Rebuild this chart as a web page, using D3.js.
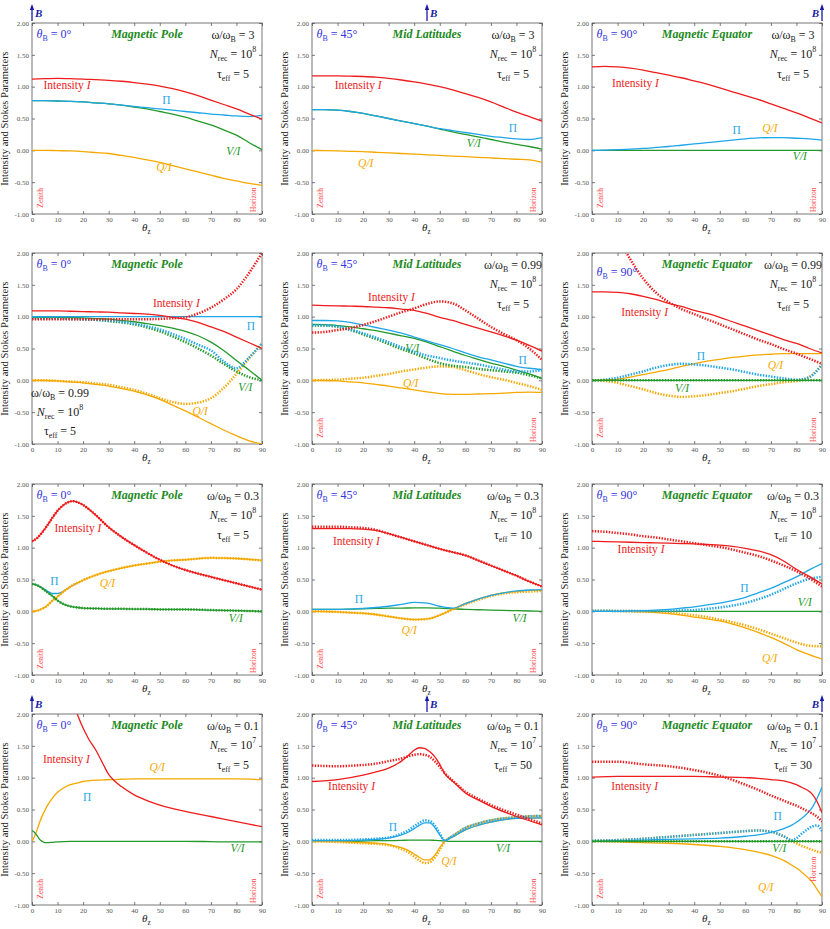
<!DOCTYPE html>
<html>
<head>
<meta charset="utf-8">
<script src="https://cdn.jsdelivr.net/npm/d3@7"></script>
<style>
	body { margin: 0; background: #fff; }
</style>
</head>
<body>
<svg id="chart" width="830" height="929"></svg>
<script>
// zenith angle grids (degrees) - each panel's series are sampled on one of these
const gridA = [0, 5, 10, 15, 20, 25, 30, 35, 40, 45, 50, 55, 60, 65, 70, 75, 80, 85, 90];
const grid7 = [0, 2, 4, 6, 8, 10, 12, 14, 16, 18, 20, 25, 30, 35, 40, 45, 50, 55, 60, 70, 80, 90];
const grid10 = [0, 1, 2, 3, 4, 5, 6, 8, 10, 12, 15, 18, 20, 22, 25, 28, 30, 32, 35, 40, 45, 50, 60, 70, 80, 90];
const grid11 = [0, 10, 20, 25, 30, 35, 38, 40, 42, 44, 46, 48, 50, 52, 54, 56, 60, 65, 70, 80, 90];
const grid12 = [0, 10, 20, 30, 40, 50, 60, 65, 70, 75, 78, 80, 82, 84, 86, 88, 90];

const zerosA = [0, 0, 0, 0, 0, 0, 0, 0, 0, 0, 0, 0, 0, 0, 0, 0, 0, 0, 0];
const zeros12 = [0, 0, 0, 0, 0, 0, 0, 0, 0, 0, 0, 0, 0, 0, 0, 0, 0];

// row 1: omega/omegaB = 3
const p1I = [1.12, 1.125, 1.13, 1.125, 1.12, 1.11, 1.10, 1.085, 1.065, 1.04, 1.01, 0.97, 0.92, 0.86, 0.79, 0.72, 0.65, 0.57, 0.49];
const p1Pi = [0.78, 0.78, 0.775, 0.77, 0.76, 0.745, 0.73, 0.71, 0.69, 0.67, 0.65, 0.63, 0.61, 0.59, 0.57, 0.555, 0.54, 0.53, 0.55];
const p1V = [0.78, 0.78, 0.775, 0.77, 0.76, 0.745, 0.73, 0.71, 0.68, 0.65, 0.61, 0.57, 0.52, 0.46, 0.40, 0.32, 0.24, 0.12, 0.01];
const p1Q = [0, 0, -0.005, -0.01, -0.02, -0.035, -0.05, -0.08, -0.11, -0.15, -0.19, -0.24, -0.29, -0.34, -0.39, -0.44, -0.48, -0.52, -0.55];

const p2I = [1.17, 1.17, 1.17, 1.165, 1.16, 1.15, 1.13, 1.105, 1.075, 1.04, 1.0, 0.95, 0.89, 0.83, 0.76, 0.68, 0.60, 0.53, 0.46];
const p2Pi = [0.64, 0.64, 0.63, 0.61, 0.58, 0.54, 0.50, 0.46, 0.42, 0.38, 0.34, 0.31, 0.28, 0.25, 0.22, 0.20, 0.18, 0.17, 0.20];
const p2V = [0.64, 0.64, 0.63, 0.61, 0.58, 0.54, 0.50, 0.46, 0.42, 0.38, 0.335, 0.29, 0.25, 0.21, 0.17, 0.13, 0.095, 0.06, 0.02];
const p2Q = [0, -0.005, -0.01, -0.015, -0.02, -0.03, -0.04, -0.05, -0.06, -0.07, -0.08, -0.09, -0.10, -0.11, -0.12, -0.13, -0.14, -0.15, -0.19];

// Q/I coincides with Pi here and sits underneath it
const p3I = [1.31, 1.32, 1.31, 1.29, 1.26, 1.22, 1.18, 1.14, 1.09, 1.04, 0.98, 0.92, 0.86, 0.80, 0.73, 0.66, 0.59, 0.51, 0.43];
const p3Pi = [0, 0.003, 0.01, 0.02, 0.03, 0.045, 0.06, 0.08, 0.10, 0.12, 0.14, 0.16, 0.18, 0.195, 0.20, 0.20, 0.19, 0.18, 0.16];

// row 2: omega/omegaB = 0.99 ("d" = dotted companion curve)
const p4I = [1.09, 1.09, 1.09, 1.085, 1.08, 1.075, 1.07, 1.06, 1.05, 1.04, 1.02, 0.99, 0.96, 0.91, 0.84, 0.77, 0.68, 0.59, 0.50];
const p4Id = [0.96, 0.96, 0.96, 0.96, 0.96, 0.96, 0.96, 0.96, 0.96, 0.96, 0.965, 0.975, 0.99, 1.05, 1.14, 1.27, 1.43, 1.69, 2.0];
const p4Pi = [1, 1, 1, 1, 1, 1, 1, 1, 1, 1, 1, 1, 1, 1, 1, 1, 1, 1, 1];
const p4Pid = [0.97, 0.97, 0.97, 0.965, 0.96, 0.95, 0.94, 0.92, 0.89, 0.85, 0.80, 0.73, 0.65, 0.56, 0.47, 0.30, 0.19, 0.36, 0.58];
const p4V = [0.99, 0.99, 0.99, 0.985, 0.98, 0.97, 0.96, 0.94, 0.92, 0.89, 0.86, 0.82, 0.77, 0.70, 0.60, 0.47, 0.31, 0.16, 0.0];
const p4Vd = [0.97, 0.97, 0.97, 0.965, 0.96, 0.95, 0.93, 0.91, 0.88, 0.83, 0.77, 0.69, 0.60, 0.50, 0.39, 0.26, 0.14, 0.05, 0.0];
const p4Q = [0, -0.003, -0.01, -0.025, -0.04, -0.065, -0.09, -0.13, -0.17, -0.23, -0.30, -0.39, -0.48, -0.58, -0.68, -0.78, -0.87, -0.95, -1.0];
const p4Qd = [0, 0, -0.01, -0.02, -0.03, -0.05, -0.07, -0.11, -0.15, -0.21, -0.28, -0.34, -0.37, -0.35, -0.28, -0.12, 0.1, 0.35, 0.58];

const p5I = [1.18, 1.175, 1.17, 1.165, 1.16, 1.15, 1.14, 1.12, 1.10, 1.05, 0.99, 0.94, 0.88, 0.82, 0.76, 0.70, 0.63, 0.55, 0.46];
const p5Id = [0.75, 0.76, 0.79, 0.82, 0.87, 0.93, 1.0, 1.07, 1.13, 1.2, 1.24, 1.21, 1.1, 0.97, 0.84, 0.73, 0.63, 0.5, 0.32];
const p5Pi = [0.94, 0.94, 0.935, 0.91, 0.87, 0.83, 0.79, 0.74, 0.68, 0.62, 0.56, 0.50, 0.43, 0.37, 0.32, 0.27, 0.22, 0.19, 0.17];
const p5Pid = [0.87, 0.865, 0.85, 0.80, 0.74, 0.67, 0.60, 0.52, 0.45, 0.39, 0.35, 0.31, 0.28, 0.25, 0.21, 0.17, 0.14, 0.14, 0.16];
const p5V = [0.88, 0.875, 0.86, 0.84, 0.81, 0.78, 0.74, 0.70, 0.66, 0.60, 0.53, 0.46, 0.39, 0.33, 0.27, 0.22, 0.16, 0.10, 0.03];
const p5Vd = [0.86, 0.86, 0.84, 0.79, 0.72, 0.65, 0.57, 0.49, 0.42, 0.34, 0.27, 0.23, 0.21, 0.18, 0.16, 0.14, 0.12, 0.08, 0.03];
const p5Q = [0, -0.003, -0.01, -0.025, -0.04, -0.065, -0.09, -0.12, -0.15, -0.18, -0.21, -0.22, -0.22, -0.215, -0.21, -0.20, -0.19, -0.185, -0.19];
const p5Qd = [0, 0.005, 0.01, 0.025, 0.04, 0.07, 0.10, 0.14, 0.17, 0.20, 0.22, 0.21, 0.16, 0.10, 0.05, 0.01, -0.04, -0.09, -0.15];

// Pi (solid) coincides with Q/I here and sits underneath it
const p6I = [1.39, 1.39, 1.38, 1.36, 1.32, 1.27, 1.21, 1.16, 1.10, 1.05, 0.99, 0.92, 0.85, 0.78, 0.71, 0.64, 0.58, 0.50, 0.43];
const p6Id = [null, null, 2.25, 1.9, 1.6, 1.38, 1.23, 1.12, 1.04, 0.96, 0.88, 0.80, 0.72, 0.64, 0.57, 0.49, 0.42, 0.34, 0.26];
const p6Pid = [0, 0.01, 0.04, 0.09, 0.14, 0.20, 0.24, 0.26, 0.25, 0.23, 0.20, 0.17, 0.13, 0.09, 0.06, 0.03, 0.01, 0.05, 0.25];
const p6Q = [0, 0.005, 0.02, 0.05, 0.09, 0.13, 0.17, 0.22, 0.26, 0.30, 0.33, 0.36, 0.38, 0.40, 0.41, 0.42, 0.42, 0.42, 0.42];
const p6Qd = [0, -0.01, -0.04, -0.09, -0.14, -0.20, -0.24, -0.26, -0.25, -0.23, -0.20, -0.17, -0.13, -0.09, -0.06, -0.03, -0.01, 0.05, 0.25];

// row 3: omega/omegaB = 0.3 (Pi hidden under Q/I beyond 18 deg)
const p7I = [1.10, 1.15, 1.24, 1.35, 1.47, 1.58, 1.66, 1.71, 1.73, 1.71, 1.67, 1.51, 1.32, 1.17, 1.04, 0.92, 0.81, 0.72, 0.65, 0.54, 0.44, 0.34];
const p7Pi = [0.43, 0.41, 0.37, 0.32, 0.28, 0.28, 0.31, 0.36, 0.41, 0.45, null, null, null, null, null, null, null, null, null, null, null, null];
const p7Q = [0, 0.01, 0.04, 0.09, 0.17, 0.23, 0.30, 0.36, 0.41, 0.45, 0.49, 0.57, 0.63, 0.68, 0.72, 0.75, 0.78, 0.80, 0.81, 0.84, 0.83, 0.80];
const p7V = [0.43, 0.41, 0.36, 0.30, 0.24, 0.17, 0.12, 0.09, 0.07, 0.06, 0.05, 0.045, 0.04, 0.04, 0.035, 0.035, 0.03, 0.03, 0.03, 0.02, 0.01, 0];

const p8I = [1.30, 1.30, 1.30, 1.30, 1.29, 1.27, 1.22, 1.16, 1.10, 1.04, 0.98, 0.93, 0.88, 0.80, 0.72, 0.64, 0.56, 0.47, 0.39];
const p8Id = [1.33, 1.33, 1.33, 1.32, 1.31, 1.28, 1.22, 1.16, 1.10, 1.04, 0.98, 0.93, 0.88, 0.80, 0.72, 0.64, 0.56, 0.47, 0.39];
const p8Pi = [0.03, 0.03, 0.03, 0.035, 0.045, 0.06, 0.08, 0.11, 0.14, 0.13, 0.08, 0.05, 0.12, 0.19, 0.25, 0.29, 0.32, 0.335, 0.34];
const p8V = [0.03, 0.03, 0.03, 0.035, 0.04, 0.045, 0.05, 0.05, 0.055, 0.055, 0.05, 0.04, 0.03, 0.025, 0.02, 0.015, 0.01, 0.005, 0];
const p8Q = [0, -0.005, -0.01, -0.02, -0.03, -0.05, -0.08, -0.11, -0.13, -0.12, -0.06, 0.03, 0.12, 0.19, 0.25, 0.29, 0.31, 0.33, 0.33];
const p8Qd = [0, 0, -0.01, -0.02, -0.03, -0.05, -0.08, -0.11, -0.13, -0.12, -0.06, 0.03, 0.11, 0.18, 0.24, 0.28, 0.30, 0.31, 0.32];

const p9I = [1.10, 1.095, 1.09, 1.085, 1.08, 1.075, 1.07, 1.065, 1.06, 1.05, 1.04, 1.02, 0.99, 0.95, 0.89, 0.79, 0.66, 0.55, 0.43];
const p9Id = [1.26, 1.25, 1.23, 1.21, 1.18, 1.16, 1.13, 1.10, 1.07, 1.04, 1.01, 0.97, 0.92, 0.87, 0.80, 0.72, 0.63, 0.52, 0.39];
const p9Pi = [0, 0, 0, 0.005, 0.01, 0.02, 0.03, 0.05, 0.07, 0.10, 0.13, 0.17, 0.22, 0.29, 0.36, 0.45, 0.54, 0.65, 0.75];
const p9Pid = [0.01, 0.01, 0.005, 0.005, 0.005, 0.005, 0.01, 0.015, 0.02, 0.04, 0.06, 0.09, 0.13, 0.19, 0.26, 0.35, 0.44, 0.51, 0.54];
const p9Q = [0, 0, 0, -0.005, -0.01, -0.02, -0.035, -0.06, -0.09, -0.12, -0.15, -0.2, -0.26, -0.33, -0.41, -0.5, -0.60, -0.68, -0.75];
const p9Qd = [0.01, 0.01, 0.005, 0.005, 0, -0.005, -0.02, -0.04, -0.06, -0.09, -0.13, -0.17, -0.22, -0.28, -0.35, -0.42, -0.49, -0.54, -0.55];

// row 4: omega/omegaB = 0.1 (panel 10: Pi hidden under Q/I)
const p10I = [null, null, null, null, null, null, null, null, null, null, 2.35, 1.97, 1.78, 1.62, 1.43, 1.2, 1.05, 0.96, 0.86, 0.73, 0.64, 0.57, 0.47, 0.39, 0.31, 0.23];
const p10Q = [0, 0.08, 0.18, 0.30, 0.40, 0.48, 0.56, 0.68, 0.77, 0.83, 0.89, 0.92, 0.94, 0.95, 0.96, 0.965, 0.97, 0.97, 0.975, 0.98, 0.98, 0.98, 0.98, 0.98, 0.98, 0.97];
const p10V = [0.17, 0.14, 0.09, 0.03, 0.0, -0.02, -0.02, -0.015, -0.01, -0.005, 0, 0, 0, 0, 0, 0, 0, 0, 0, 0, 0, 0, 0, -0.005, -0.01, -0.01];

const p11I = [0.94, 0.97, 1.04, 1.09, 1.15, 1.26, 1.36, 1.43, 1.47, 1.46, 1.41, 1.33, 1.21, 1.06, 0.98, 0.91, 0.76, 0.65, 0.55, 0.39, 0.26];
const p11Id = [1.19, 1.18, 1.20, 1.22, 1.26, 1.30, 1.34, 1.36, 1.37, 1.36, 1.33, 1.26, 1.17, 1.07, 0.99, 0.92, 0.78, 0.67, 0.57, 0.42, 0.28];
const p11Pi = [0.01, 0.01, 0.02, 0.03, 0.05, 0.1, 0.15, 0.2, 0.25, 0.29, 0.29, 0.22, 0.1, 0.01, 0.05, 0.09, 0.18, 0.25, 0.3, 0.36, 0.37];
const p11Pid = [0.02, 0.02, 0.03, 0.04, 0.06, 0.12, 0.18, 0.24, 0.29, 0.33, 0.32, 0.25, 0.12, 0.01, 0.06, 0.11, 0.21, 0.28, 0.33, 0.38, 0.40];
const p11V = [0, 0, 0.005, 0.01, 0.01, 0.015, 0.02, 0.02, 0.02, 0.02, 0.02, 0.015, 0.01, 0.005, 0, 0, 0, 0, 0, 0, 0];
const p11Q = [0, -0.005, -0.02, -0.03, -0.05, -0.1, -0.15, -0.2, -0.25, -0.29, -0.29, -0.22, -0.1, 0.0, 0.05, 0.09, 0.18, 0.25, 0.3, 0.36, 0.37];
const p11Qd = [0, -0.01, -0.03, -0.04, -0.06, -0.12, -0.18, -0.24, -0.3, -0.34, -0.33, -0.26, -0.13, 0.0, 0.06, 0.11, 0.21, 0.28, 0.33, 0.38, 0.40];

const p12I = [1.01, 1.02, 1.02, 1.02, 1.02, 1.01, 1.0, 0.99, 0.97, 0.95, 0.92, 0.89, 0.85, 0.81, 0.75, 0.63, 0.45];
const p12Id = [1.25, 1.25, 1.21, 1.18, 1.12, 1.03, 0.89, 0.81, 0.72, 0.64, 0.59, 0.56, 0.52, 0.48, 0.44, 0.39, 0.31];
const p12Pi = [0, 0.01, 0.02, 0.03, 0.04, 0.05, 0.08, 0.1, 0.14, 0.2, 0.25, 0.3, 0.36, 0.43, 0.52, 0.67, 0.85];
const p12Pid = [0.01, 0.02, 0.04, 0.07, 0.10, 0.13, 0.16, 0.17, 0.15, 0.08, 0.02, 0.05, 0.12, 0.18, 0.23, 0.25, 0.16];
const p12Q = [0, -0.01, -0.02, -0.03, -0.05, -0.08, -0.13, -0.17, -0.22, -0.30, -0.37, -0.42, -0.48, -0.55, -0.63, -0.75, -0.87];
const p12Qd = [0.01, 0.02, 0.04, 0.07, 0.10, 0.13, 0.16, 0.17, 0.15, 0.08, 0.01, -0.03, -0.07, -0.1, -0.13, -0.16, -0.18];

const yTicks = [-1, -0.5, 0, 0.5, 1, 1.5, 2];
const xTicks = [0, 10, 20, 30, 40, 50, 60, 70, 80, 90];

const colours = { I: '#ee1c1c', Pi: '#1fa6e8', V: '#23992a', Q: '#f6a800' };
const FONT = '"Liberation Serif", "DejaVu Serif", serif';

// panel table: series listed in drawing order, [key, values, dotted]
const panels = [
	{ theta: gridA, thetaB: '0°', region: 'Magnetic Pole', omega: '3', nrec: '8', tau: '5', arrow: 'left',
		series: [['Q', p1Q], ['V', p1V], ['Pi', p1Pi], ['I', p1I]],
		labels: { I: [4.5, 0.96], Pi: [51, 0.72], V: [76, -0.08], Q: [48.6, -0.32] } },
	{ theta: gridA, thetaB: '45°', region: 'Mid Latitudes', omega: '3', nrec: '8', tau: '5', arrow: 'mid',
		series: [['Q', p2Q], ['V', p2V], ['Pi', p2Pi], ['I', p2I]],
		labels: { I: [8.9, 0.97], Pi: [77, 0.29], V: [60.6, 0.05], Q: [18, -0.26] } },
	{ theta: gridA, thetaB: '90°', region: 'Magnetic Equator', omega: '3', nrec: '8', tau: '5', arrow: 'right',
		series: [['V', zerosA], ['Pi', p3Pi], ['I', p3I]],
		labels: { I: [7.8, 1.0], Pi: [55, 0.26], Q: [66.6, 0.29], V: [78.6, -0.15] } },
	{ theta: gridA, thetaB: '0°', region: 'Magnetic Pole', omega: '0.99', nrec: '8', tau: '5', annotLow: true, noZH: true,
		series: [['Q', p4Q], ['Q', p4Qd, true], ['V', p4V], ['V', p4Vd, true], ['Pi', p4Pid, true], ['Pi', p4Pi], ['I', p4I], ['I', p4Id, true]],
		labels: { I: [47.3, 1.15], Pi: [84, 0.79], V: [80.7, -0.16], Q: [62.8, -0.55] } },
	{ theta: gridA, thetaB: '45°', region: 'Mid Latitudes', omega: '0.99', nrec: '8', tau: '5',
		series: [['Q', p5Q], ['Q', p5Qd, true], ['V', p5Vd, true], ['V', p5V], ['Pi', p5Pi], ['Pi', p5Pid, true], ['I', p5I], ['I', p5Id, true]],
		labels: { I: [21.9, 1.24], V: [36.5, 0.45], Pi: [80.8, 0.26], Q: [35.6, -0.1] } },
	{ theta: gridA, thetaB: '90°', region: 'Magnetic Equator', omega: '0.99', nrec: '8', tau: '5', thetaBLow: true,
		series: [['Q', p6Q], ['Q', p6Qd, true], ['Pi', p6Pid, true], ['V', zerosA], ['V', zerosA, true], ['I', p6I], ['I', p6Id, true]],
		labels: { I: [11.4, 1.01], Pi: [41, 0.32], Q: [68.8, 0.18], V: [32.5, -0.19] } },
	{ theta: grid7, thetaB: '0°', region: 'Magnetic Pole', omega: '0.3', nrec: '8', tau: '5',
		series: [['Pi', p7Pi], ['Q', p7Q], ['Q', p7Q, true], ['V', p7V], ['V', p7V, true], ['I', p7I], ['I', p7I, true]],
		labels: { I: [8.8, 1.25], Pi: [7.1, 0.41], Q: [26.5, 0.39], V: [77, -0.17] } },
	{ theta: gridA, thetaB: '45°', region: 'Mid Latitudes', omega: '0.3', nrec: '8', tau: '10',
		series: [['V', p8V], ['Q', p8Q], ['Q', p8Qd, true], ['Pi', p8Pi], ['I', p8I], ['I', p8Id, true]],
		labels: { I: [8.2, 1.04], Pi: [16.7, 0.13], Q: [35, -0.36], V: [78.5, -0.17] } },
	{ theta: gridA, thetaB: '90°', region: 'Magnetic Equator', omega: '0.3', nrec: '8', tau: '10', noZH: true,
		series: [['V', zerosA], ['Q', p9Q], ['Q', p9Qd, true], ['Pi', p9Pi], ['Pi', p9Pid, true], ['I', p9I], ['I', p9Id, true]],
		labels: { I: [10, 0.92], Pi: [58, 0.31], V: [80.5, 0.09], Q: [66.5, -0.8] } },
	{ theta: grid10, thetaB: '0°', region: 'Magnetic Pole', omega: '0.1', nrec: '7', tau: '5', arrow: 'left',
		series: [['Q', p10Q], ['V', p10V], ['I', p10I]],
		labels: { I: [4.3, 1.23], Q: [46, 1.1], Pi: [20, 0.64], V: [77.7, -0.17] } },
	{ theta: grid11, thetaB: '45°', region: 'Mid Latitudes', omega: '0.1', nrec: '7', tau: '50', arrow: 'mid',
		series: [['V', p11V], ['Q', p11Q], ['Q', p11Qd, true], ['Pi', p11Pi], ['Pi', p11Pid, true], ['I', p11I], ['I', p11Id, true]],
		labels: { I: [6.3, 0.81], Pi: [30, 0.17], Q: [50.6, -0.37], V: [72, -0.17] } },
	{ theta: grid12, thetaB: '90°', region: 'Magnetic Equator', omega: '0.1', nrec: '7', tau: '30', arrow: 'right', horizonHigh: true,
		series: [['Q', p12Q], ['Q', p12Qd, true], ['Pi', p12Pi], ['Pi', p12Pid, true], ['V', zeros12], ['V', zeros12, true], ['I', p12I], ['I', p12Id, true]],
		labels: { I: [7.5, 0.81], Pi: [71, 0.34], V: [70.5, -0.17], Q: [65, -0.78] } }
];

// layout
const W = 230;
const H = 191;
const colLeft = [32, 312, 592];
const rowTop = [23, 253, 484, 714];

const $svg = d3.select('#chart');
const x = d3.scaleLinear().domain([0, 90]).range([0, W]);
const y = d3.scaleLinear().domain([-1, 2]).range([H, 0]);

const line = d3
	.line()
	.defined(d => d[1] !== null)
	.x(d => x(d[0]))
	.y(d => y(d[1]))
	.curve(d3.curveMonotoneX);

// text with italic / sub / superscript pieces
function rich($t, parts, fs) {
	let shift = 0;
	parts.forEach(([str, kind]) => {
		const target = kind === 'sub' ? 0.28 : kind === 'sup' ? -0.5 : 0;
		const $s = $t
			.append('tspan')
			.attr('dy', (target - shift) * fs)
			.text(str);
		if (kind === 'i') $s.attr('font-style', 'italic');
		if (kind === 'sub' || kind === 'sup') $s.attr('font-size', fs * 0.66);
		shift = target;
	});
	return $t;
}

const seriesLabel = {
	I: [['Intensity ', ''], ['I', 'i']],
	Pi: [['Π', '']],
	V: [['V/I', 'i']],
	Q: [['Q/I', 'i']]
};

panels.forEach((p, i) => {
	const col = i % 3;
	const row = Math.floor(i / 3);
	const $g = $svg.append('g').attr('transform', `translate(${colLeft[col]}, ${rowTop[row]})`);

	$g.append('clipPath')
		.attr('id', `clip-${i}`)
		.append('rect')
		.attr('width', W)
		.attr('height', H);

	// axes, ticks pointing inward on all four sides
	const $yl = $g.append('g').call(
		d3.axisLeft(y).tickValues(yTicks).tickFormat(d => d.toFixed(2)).tickSizeInner(-3).tickSizeOuter(0).tickPadding(3)
	);
	const $xb = $g.append('g').attr('transform', `translate(0, ${H})`).call(
		d3.axisBottom(x).tickValues(xTicks).tickSizeInner(-3).tickSizeOuter(0).tickPadding(3)
	);
	$g.append('g').attr('transform', `translate(${W}, 0)`).call(
		d3.axisRight(y).tickValues(yTicks).tickFormat('').tickSizeInner(-3).tickSizeOuter(0)
	);
	$g.append('g').call(
		d3.axisTop(x).tickValues(xTicks).tickFormat('').tickSizeInner(-3).tickSizeOuter(0)
	);
	$g.selectAll('.domain').remove();
	$g.selectAll('.tick line').attr('stroke', '#444').attr('stroke-width', 0.7);
	[$yl, $xb].forEach($a => $a.selectAll('text').attr('font-size', 7).attr('fill', '#555'));

	$g.append('rect')
		.attr('width', W)
		.attr('height', H)
		.attr('fill', 'none')
		.attr('stroke', '#555')
		.attr('stroke-width', 0.8);

	// axis titles
	$g.append('text')
		.attr('transform', `translate(${-24}, ${H / 2}) rotate(-90)`)
		.attr('text-anchor', 'middle')
		.attr('font-size', 10.5)
		.attr('fill', '#222')
		.text('Intensity and Stokes Parameters');
	rich(
		$g.append('text').attr('x', W / 2 - 5).attr('y', H + 16.5).attr('font-size', 11).attr('fill', '#222'),
		[['θ', 'i'], ['z', 'sub']],
		11
	);

	// curves
	const $curves = $g.append('g').attr('clip-path', `url(#clip-${i})`);
	p.series.forEach(([key, vals, dotted]) => {
		const pts = p.theta.map((t, k) => [t, vals[k]]);
		$curves
			.append('path')
			.datum(pts)
			.attr('d', line)
			.attr('fill', 'none')
			.attr('stroke', colours[key])
			.attr('stroke-width', dotted ? 2.5 : 1.3)
			.attr('stroke-dasharray', dotted ? '1.4,1.4' : null);
	});

	// curve labels
	Object.entries(p.labels).forEach(([key, [lt, lv]]) => {
		rich(
			$g.append('text').attr('x', x(lt)).attr('y', y(lv)).attr('font-size', 11.5).attr('fill', colours[key]),
			seriesLabel[key],
			11.5
		);
	});

	// header texts
	rich(
		$g.append('text')
			.attr('x', 4.5)
			.attr('y', p.thetaBLow ? 23 : 15)
			.attr('font-size', 12)
			.attr('fill', '#3535e0'),
		[['θ', 'i'], ['B', 'sub'], [` = ${p.thetaB}`, '']],
		12
	);
	$g.append('text')
		.attr('x', W / 2)
		.attr('y', 15)
		.attr('text-anchor', 'middle')
		.attr('font-size', 12)
		.attr('font-weight', 'bold')
		.attr('font-style', 'italic')
		.attr('fill', '#1d8a1d')
		.text(p.region);

	const annX = p.annotLow ? 28 : W - 29;
	const annY = p.annotLow ? [143.5, 163, 182] : [15.7, 34.7, 54.7];
	const annLines = [
		[['ω/ω', ''], ['B', 'sub'], [` = ${p.omega}`, '']],
		[['N', 'i'], ['rec', 'sub'], [' = 10', ''], [p.nrec, 'sup']],
		[['τ', ''], ['eff', 'sub'], [` = ${p.tau}`, '']]
	];
	annLines.forEach((parts, k) => {
		rich(
			$g.append('text').attr('x', annX).attr('y', annY[k]).attr('text-anchor', 'middle').attr('font-size', 12).attr('fill', '#222'),
			parts,
			12
		);
	});

	// zenith / horizon markers
	if (!p.noZH) {
		$g.append('text')
			.attr('transform', `translate(${x(3.2) + 2.5}, ${y(-0.9)}) rotate(-90)`)
			.attr('font-size', 7.5)
			.attr('fill', '#ff4a4a')
			.text('Zenith');
		$g.append('text')
			.attr('transform', `translate(${x(86.6) + 2.5}, ${y(p.horizonHigh ? -0.63 : -0.97)}) rotate(-90)`)
			.attr('font-size', 7.5)
			.attr('fill', '#ff4a4a')
			.text('Horizon');
	}

	// magnetic field direction arrow
	if (p.arrow) {
		const ax = p.arrow === 'left' ? 0 : p.arrow === 'mid' ? W / 2 : W;
		$g.append('line')
			.attr('x1', ax)
			.attr('x2', ax)
			.attr('y1', -2)
			.attr('y2', -15)
			.attr('stroke', '#1a1aa8')
			.attr('stroke-width', 1.3);
		$g.append('path')
			.attr('d', `M${ax - 2.2},-13 L${ax},-19 L${ax + 2.2},-13 Z`)
			.attr('fill', '#1a1aa8');
		$g.append('text')
			.attr('x', p.arrow === 'right' ? ax - 3 : ax + 3)
			.attr('y', -6)
			.attr('text-anchor', p.arrow === 'right' ? 'end' : 'start')
			.attr('font-size', 11)
			.attr('font-weight', 'bold')
			.attr('font-style', 'italic')
			.attr('fill', '#1a1aa8')
			.text('B');
	}
});

// one serif face for every label, axis ticks included
$svg.selectAll('text').attr('font-family', FONT);
</script>
</body>
</html>
